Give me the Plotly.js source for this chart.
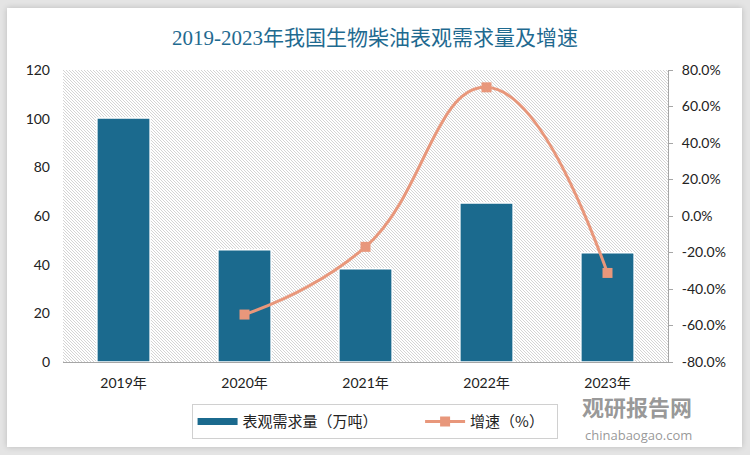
<!DOCTYPE html>
<html><head><meta charset="utf-8">
<script src="https://cdn.plot.ly/plotly-3.0.1.min.js"></script>
<style>
html,body{margin:0;padding:0;}
#wrap{position:relative;width:750px;height:455px;background:#e4e4e4;overflow:hidden;}
#card{position:absolute;left:7px;top:8px;width:735px;height:439px;background:#fff;box-shadow:0 0 6px rgba(0,0,0,0.18);}
#hatch{position:absolute;left:63px;top:70px;width:605px;height:292px;
background-image:url("data:image/svg+xml;utf8,<svg xmlns='http://www.w3.org/2000/svg' width='3' height='3' shape-rendering='crispEdges'><rect width='3' height='3' fill='%23ffffff'/><rect x='0' y='0' width='1' height='1' fill='%23d4d4d4'/><rect x='1' y='1' width='1' height='1' fill='%23d4d4d4'/><rect x='2' y='2' width='1' height='1' fill='%23d4d4d4'/></svg>");
background-repeat:repeat;}
#chart{position:absolute;left:0;top:0;width:750px;height:455px;}
</style></head>
<body>
<div id="wrap"><div id="card"></div><div id="hatch"></div><div id="chart"></div></div>
<script>
const categories = ['2019年','2020年','2021年','2022年','2023年'];
const demand = [100.3, 46.1, 38.3, 65.3, 44.9];
const growth = [null, -54.0, -16.9, 70.5, -31.2];
const leftTicks = [0,20,40,60,80,100,120];
const rightTicks = [-80,-60,-40,-20,0,20,40,60,80];
const rightTickText = rightTicks.map(v => v.toFixed(1) + '%');

const barColor = '#1b6a8e';
const lineColor = '#e8977b';
const tickFont = {family:'Lato, "Noto Sans CJK SC", sans-serif', size:14, color:'#222'};

const traces = [
  {type:'bar', x:categories, y:demand, name:'表观需求量（万吨）', showlegend:false,
   marker:{color:barColor, line:{color:'#ffffff', width:1.5}}, width:0.44, yaxis:'y'},
  {type:'scatter', mode:'lines', x:[null], y:[null], name:'表观需求量（万吨）　　　', yaxis:'y',
   line:{color:barColor, width:7}, hoverinfo:'skip'},
  {type:'scatter', mode:'lines+markers', x:categories, y:growth, name:'增速（%）　', yaxis:'y2',
   line:{color:lineColor, width:3, shape:'spline', smoothing:1.3},
   marker:{symbol:'square', size:10, color:lineColor}, connectgaps:false}
];

const layout = {
  width:750, height:455,
  margin:{l:63, r:82, t:70, b:93},
  paper_bgcolor:'rgba(0,0,0,0)', plot_bgcolor:'rgba(0,0,0,0)',
  title:{text:'2019-2023年我国生物柴油表观需求量及增速', x:0.5, xanchor:'center', y:0.918, yanchor:'middle',
    font:{family:'"Liberation Serif", "Noto Sans CJK SC", serif', size:21, color:'#1f6a90'}},
  xaxis:{type:'category', showline:true, linecolor:'#a6a6a6', linewidth:1, ticks:'',
    tickfont:{family:'Lato, "Noto Sans CJK SC", sans-serif', size:14, color:'#222'}, showgrid:false, zeroline:false,
    ticklabelstandoff:8},
  yaxis:{range:[0,120], tickvals:leftTicks, showgrid:false, zeroline:false, showline:false, ticks:'',
    tickfont:tickFont, ticklabelstandoff:12},
  yaxis2:{range:[-80,80], overlaying:'y', side:'right', tickvals:rightTicks, ticktext:rightTickText,
    showgrid:false, zeroline:false, showline:true, linecolor:'#a6a6a6', linewidth:1,
    ticks:'outside', ticklen:4, tickcolor:'#a6a6a6', tickfont:tickFont, ticklabelstandoff:6},
  showlegend:true,
  legend:{orientation:'h', x:0.515, xanchor:'center', y:-0.205, yanchor:'middle',
    bgcolor:'#ffffff', bordercolor:'#d0d0d0', borderwidth:1,
    font:{family:'"Noto Sans CJK SC", sans-serif', size:15, color:'#222'}, itemwidth:40, tracegroupgap:0},
  annotations:[
    {xref:'paper', yref:'paper', x:1.043, y:-0.151, xanchor:'right', yanchor:'middle', showarrow:false,
     text:'<b>观研报告网</b>', font:{family:'"Noto Sans CJK SC", sans-serif', size:22, color:'rgba(125,125,125,0.8)'}},
    {xref:'paper', yref:'paper', x:1.043, y:-0.25, xanchor:'right', yanchor:'middle', showarrow:false,
     text:'chinabaogao.com', font:{family:'"Open Sans", sans-serif', size:13, color:'rgba(125,125,125,0.8)'}}
  ]
};
Plotly.newPlot('chart', traces, layout, {displayModeBar:false, staticPlot:true});
</script>
</body></html>
